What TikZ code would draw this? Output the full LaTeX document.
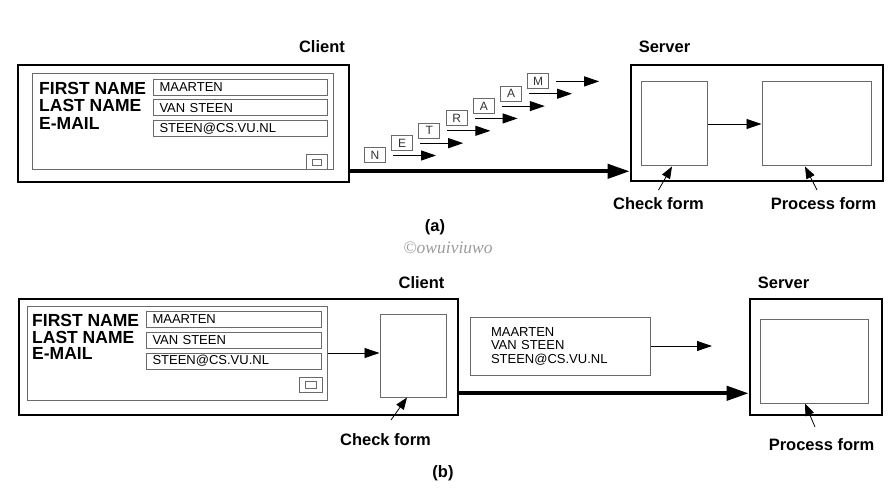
\documentclass[tikz,border=0pt]{standalone}
\usepackage{fontspec}
\setmainfont{Liberation Sans}
\newfontfamily\wmfont{Liberation Serif}
\usetikzlibrary{arrows.meta,positioning}
\definecolor{edge}{HTML}{6A6A6A}
\definecolor{wmark}{HTML}{9C9C9C}
\tikzset{
  frame/.style={rectangle, draw=black, line width=2.6pt, inner sep=0pt},
  pane/.style={rectangle, draw=edge, line width=1pt, inner sep=0pt},
  field/.style={pane, anchor=north west, minimum height=16pt, inner xsep=6pt, align=left,
                font=\fontsize{13}{13}\selectfont},
  key/.style={anchor=base west, inner sep=0pt, text height=12pt, text depth=0pt,
              font=\fontsize{17.5}{18}\selectfont\bfseries},
  lbl/.style={anchor=base, inner sep=0pt, font=\fontsize{16.5}{18}\selectfont\bfseries},
  pkt/.style={pane, minimum width=21pt, minimum height=15pt, font=\fontsize{12}{12}\selectfont, text=black!80},
  flow/.style={-{Triangle[length=15pt, width=10pt]}, line width=1.1pt},
  wire/.style={-{Triangle[length=22pt, width=14pt]}, line width=4pt},
  ptr/.style={-{Triangle[length=12pt, width=9pt]}, line width=0.8pt}
}
\begin{document}
\begin{tikzpicture}[x=1pt, y=-1pt]
 \useasboundingbox (0,0) rectangle (894,497);
 % (a) form sent letter by letter
 \node[lbl] (cliA) at (322,53) {Client};
 \node[lbl] (srvA) at (664.5,53) {Server};
 \node[frame, minimum width=331pt, minimum height=117pt] (clientA) at (183.5,123.5) {};
 \node[pane, minimum width=301pt, minimum height=96pt] (formA) at (182.5,122) {};
 \node[key] (fnA) at (39,95) {FIRST NAME};
 \node[key] (lnA) at (39,112) {LAST NAME};
 \node[key] (emA) at (39,130) {E-MAIL};
 \node[field, text width=162pt] (f1A) at (153,79) {MAARTEN};
 \node[field, text width=162pt] (f2A) at (153,99.5) {VAN STEEN};
 \node[field, text width=162pt] (f3A) at (153,120.5) {STEEN@CS.VU.NL};
 \node[pane, minimum width=21pt, minimum height=15pt] (btnA) at (316.5,162.5) {};
 \node[pane, minimum width=9pt, minimum height=6pt] (btnAin) at (btnA) {};
 \foreach \l [count=\i from 0] in {N,E,T,R,A,A,M} {
   \node[pkt] (pk\i) at (375+27.2*\i, 155.5-12.35*\i) {\l};
   \coordinate (go\i) at ([xshift=50pt]pk\i.east);
   \draw[flow] ([xshift=7pt]pk\i.east) -- (go\i);
 }
 \node[frame, minimum width=252pt, minimum height=116pt] (serverA) at (757,123) {};
 \node[pane, minimum width=66pt, minimum height=84pt] (ckA) at (674,124) {};
 \node[pane, minimum width=109pt, minimum height=84pt] (prA) at (816.5,124) {};
 \draw[flow, line width=0.9pt] (ckA) -- (prA);
 \draw[wire] ([yshift=12pt]clientA.south east) -- ([yshift=12pt]clientA.south east -| serverA.west);
 \node[lbl] (ckAlbl) at (658.5,210) {Check form};
 \node[lbl] (prAlbl) at (823.5,210) {Process form};
 \draw[ptr] ([yshift=20pt]ckAlbl.base) -- ([xshift=-2pt]ckA.south);
 \draw[ptr] ([xshift=-6.5pt, yshift=20pt]prAlbl.base) -- ([xshift=-11.5pt]prA.south);
 \node[lbl] (capA) at (435,232) {(a)};
 \node[anchor=base, inner sep=0pt, text=wmark, font=\wmfont\itshape\fontsize{17.5}{18}\selectfont] (wm) at (448,254) {©owuiviuwo};
 % (b) form checked at the client
 \node[lbl] (cliB) at (421.5,288) {Client};
 \node[lbl] (srvB) at (783.5,288) {Server};
 \node[frame, minimum width=439pt, minimum height=116pt] (clientB) at (238.5,357) {};
 \node[pane, minimum width=300pt, minimum height=94pt] (formB) at (177,353) {};
 \node[key] (fnB) at (32,326) {FIRST NAME};
 \node[key] (lnB) at (32,343) {LAST NAME};
 \node[key] (emB) at (32,359) {E-MAIL};
 \node[field, text width=163pt] (f1B) at (146,311) {MAARTEN};
 \node[field, text width=163pt] (f2B) at (146,331.5) {VAN STEEN};
 \node[field, text width=163pt] (f3B) at (146,352.5) {STEEN@CS.VU.NL};
 \node[pane, minimum width=23pt, minimum height=15pt] (btnB) at (310.5,384.5) {};
 \node[pane, minimum width=11pt, minimum height=7pt] (btnBin) at (btnB) {};
 \node[pane, minimum width=66pt, minimum height=83pt] (ckB) at (413,355.5) {};
 \draw[flow, line width=0.9pt] (formB.east) -- (formB.east -| ckB.west);
 \node[pane, minimum width=180pt, minimum height=58pt, text width=138pt, inner xsep=21pt, align=left,
       font=\fontsize{13}{13.5}\selectfont] (dataB) at (560,346) {MAARTEN\\VAN STEEN\\STEEN@CS.VU.NL};
 \coordinate (dataBgo) at (712,346);
 \draw[flow, line width=0.9pt] (dataB) -- (dataBgo);
 \node[frame, minimum width=132pt, minimum height=116pt] (serverB) at (816,357) {};
 \node[pane, minimum width=108pt, minimum height=84pt] (prB) at (814,361) {};
 \draw[wire] ([yshift=23pt]clientB.south east) -- ([yshift=23pt]clientB.south east -| serverB.west);
 \node[lbl] (ckBlbl) at (385.5,445) {Check form};
 \node[lbl] (prBlbl) at (821.5,450) {Process form};
 \draw[ptr] ([xshift=5.5pt, yshift=25pt]ckBlbl.base) -- ([xshift=-6pt]ckB.south);
 \draw[ptr] ([xshift=-6.5pt, yshift=23pt]prBlbl.base) -- ([xshift=-9pt]prB.south);
 \node[lbl] (capB) at (443,477) {(b)};
\end{tikzpicture}
\end{document}
